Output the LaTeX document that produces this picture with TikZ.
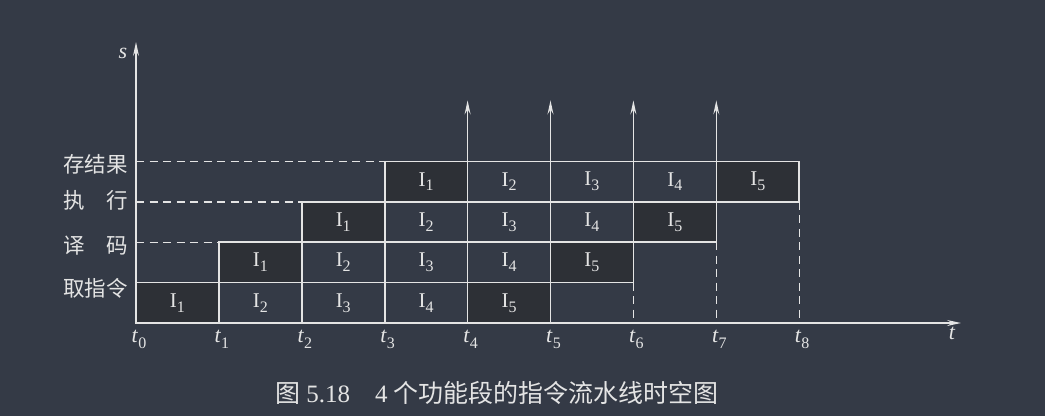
\documentclass[tikz,border=0pt]{standalone}
\usepackage{fontspec}
\setmainfont{Liberation Serif}
\newfontfamily\cjk{Noto Sans CJK SC}
\usetikzlibrary{arrows.meta,positioning}

\definecolor{board}{RGB}{52,58,70}
\definecolor{chalk}{RGB}{228,228,228}
\definecolor{shade}{RGB}{45,48,54}

% instruction and time labels
\newcommand{\instr}[1]{I\raisebox{-0.5ex}{\fontsize{16}{16}\selectfont #1}}
\newcommand{\tlab}[1]{\textit{t}\raisebox{-0.55ex}{\fontsize{16}{16}\selectfont #1}}

\begin{document}
\begin{tikzpicture}[
		x=1pt, y=-1pt,
		cell/.style={rectangle, draw=chalk, line width=1.6pt, minimum width=82.9pt, minimum height=40.4pt, inner sep=0pt, outer sep=0pt, text=chalk, font=\fontsize{21}{24}\selectfont},
		lab/.style={anchor=east, inner sep=0pt, text=chalk, font=\cjk\fontsize{21.5}{24}\selectfont},
		tick/.style={anchor=north, inner sep=0pt, text=chalk, font=\fontsize{22}{24}\selectfont},
		axis/.style={draw=chalk, line width=1.4pt, -{Stealth[length=14pt,width=6pt,inset=5pt]}},
		guide/.style={draw=chalk, line width=1.4pt, dash pattern=on 8pt off 5.5pt}
	]
	\useasboundingbox (0,0) rectangle (1045,416);
	\fill[board] (0,0) rectangle (1045,416);

	% 取指令
	\node[cell, fill=shade] (f1) at (177.45,302.8) {\instr{1}};
	\node[cell, right=0pt of f1] (f2) {\instr{2}};
	\node[cell, right=0pt of f2] (f3) {\instr{3}};
	\node[cell, right=0pt of f3] (f4) {\instr{4}};
	\node[cell, fill=shade, right=0pt of f4] (f5) {\instr{5}};
	% 译码
	\node[cell, fill=shade, above right=0pt of f1] (d1) {\instr{1}};
	\node[cell, right=0pt of d1] (d2) {\instr{2}};
	\node[cell, right=0pt of d2] (d3) {\instr{3}};
	\node[cell, right=0pt of d3] (d4) {\instr{4}};
	\node[cell, fill=shade, right=0pt of d4] (d5) {\instr{5}};
	% 执行
	\node[cell, fill=shade, above right=0pt of d1] (e1) {\instr{1}};
	\node[cell, right=0pt of e1] (e2) {\instr{2}};
	\node[cell, right=0pt of e2] (e3) {\instr{3}};
	\node[cell, right=0pt of e3] (e4) {\instr{4}};
	\node[cell, fill=shade, right=0pt of e4] (e5) {\instr{5}};
	% 存结果
	\node[cell, fill=shade, above right=0pt of e1] (w1) {\instr{1}};
	\node[cell, right=0pt of w1] (w2) {\instr{2}};
	\node[cell, right=0pt of w2] (w3) {\instr{3}};
	\node[cell, right=0pt of w3] (w4) {\instr{4}};
	\node[cell, fill=shade, right=0pt of w4] (w5) {\instr{5}};

	% axes
	\coordinate (o) at (136,323);
	\coordinate (stop) at (136,42);
	\coordinate (tend) at (961,323);
	\draw[axis] (o) -- (stop);
	\draw[axis] (o) -- (tend);
	\node[text=chalk, font=\itshape\fontsize{22}{24}\selectfont] (slab) at (123,53) {s};
	\node[text=chalk, font=\itshape\fontsize{22}{24}\selectfont] (tlab) at (952,333) {t};
	\foreach \i in {0,...,8}
		\node[tick] (t\i) at ({139+82.9*\i},330) {\tlab{\i}};

	% stage names
	\node[lab] (l1) at (128,288.5) {取指令};
	\node[lab] (l2) at (128,246) {\makebox[3em][s]{译\hfill 码}};
	\node[lab] (l3) at (128,200.5) {\makebox[3em][s]{执\hfill 行}};
	\node[lab] (l4) at (128,164.5) {存结果};

	% arrows up
	\foreach \n in {w2,w3,w4,w5}
		\draw[axis] (\n.north west) -- ++(0,-61);

	% dashed guides
	\draw[guide] (o |- d1.north west) -- (d1.north west);
	\draw[guide] (o |- e1.north west) -- (e1.north west);
	\draw[guide] (o |- w1.north west) -- (w1.north west);
	\draw[guide] (d5.south east) -- (d5.south east |- o);
	\draw[guide] (e5.south east) -- (e5.south east |- o);
	\draw[guide] (w5.south east) -- (w5.south east |- o);

	\node[text=chalk, font=\cjk\fontsize{25}{28}\selectfont] (cap) at (497,393) {图 {\rmfamily 5.18}\quad{\rmfamily 4} 个功能段的指令流水线时空图};
\end{tikzpicture}
\end{document}
